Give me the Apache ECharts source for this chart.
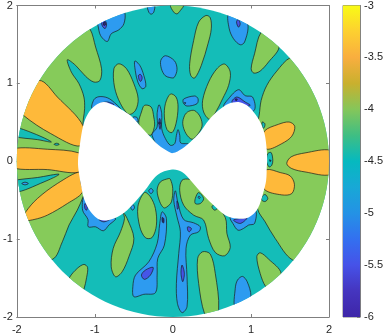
<!DOCTYPE html>
<html>
<head>
<meta charset="utf-8">
<script src="https://cdn.jsdelivr.net/npm/echarts@6/dist/echarts.min.js"></script>
<style>
  html, body { margin: 0; padding: 0; background: #fff; }
  #main { width: 386px; height: 335px; }
</style>
</head>
<body>
<div id="main"></div>
<script>
const discRadius = 2
const xRange = [-2, 2]
const yRange = [-2, 2]
const colorRange = [-6, -3]

// colourbar stops, bottom to top
const barValues = [-6, -5.75, -5.5, -5.25, -5, -4.75, -4.5, -4.25, -4, -3.75, -3.5, -3.25, -3]
const barColors = ['#3e26a8', '#4535bf', '#4652e8', '#3370f0', '#2492e5', '#18a8d6', '#06b9bf', '#3fbe83', '#85c65a', '#c9b02e', '#f9ae3f', '#fdd030', '#f9fb15']

// filled contour bands, outlines as [x, y]
const greenRegions = [
  // left side, runs behind the hole and past the rim
  [[-1.063,1.7],[-0.99,1.466],[-0.914,1.188],[-0.935,1.038],[-1.012,1.017],[-1.118,1.09],[-1.246,1.231],[-1.352,1.303],[-1.301,1.145],[-1.203,0.996],[-1.14,0.825],[-1.131,0.675],[-1.148,0.44],[-1.0,0],[-1.148,-0.449],[-1.225,-0.628],[-1.331,-0.82],[-1.416,-1.034],[-1.544,-1.26],[-2.2,-1.4],[-2.3,0],[-2.2,1.5],[-1.3,2.0]],
  // right side
  [[1.502,1.329],[1.331,1.158],[1.203,0.974],[1.131,0.782],[1.105,0.59],[1.0,0],[1.088,-0.62],[1.182,-0.778],[1.31,-0.991],[1.536,-1.269],[2.2,-1.5],[2.3,0],[2.2,1.6]],
  [[-1.323,-1.491],[-1.225,-1.376],[-1.14,-1.325],[-1.093,-1.363],[-1.105,-1.491],[-1.14,-1.645],[-1.2,-1.8],[-1.35,-1.6]],
  [[-0.032,2.01],[0.011,1.915],[0.053,1.893],[0.096,1.936],[0.138,2.01],[0.05,2.1]],
  [[-0.756,1.188],[-0.692,1.252],[-0.594,1.188],[-0.5,0.996],[-0.445,0.803],[-0.479,0.654],[-0.564,0.603],[-0.671,0.739],[-0.748,0.953]],
  [[-0.364,0.718],[-0.279,0.697],[-0.245,0.568],[-0.236,0.449],[-0.288,0.333],[-0.415,0.419],[-0.437,0.504],[-0.403,0.632]],
  [[-0.032,0.863],[0.04,0.825],[0.066,0.697],[0.04,0.483],[-0.011,0.368],[-0.075,0.406],[-0.109,0.568],[-0.096,0.739]],
  [[0.424,1.872],[0.479,1.842],[0.492,1.701],[0.45,1.509],[0.364,1.231],[0.279,1.068],[0.228,1.103],[0.215,1.252],[0.266,1.551],[0.33,1.786]],
  [[0.662,1.248],[0.735,1.145],[0.714,0.974],[0.637,0.803],[0.543,0.62],[0.471,0.538],[0.394,0.632],[0.381,0.782],[0.458,1.017],[0.564,1.188]],
  [[0.202,0.641],[0.279,0.65],[0.351,0.568],[0.373,0.449],[0.309,0.333],[0.245,0.282],[0.168,0.355],[0.126,0.483],[0.151,0.59]],
  [[1.131,1.658],[1.046,1.38],[1.003,1.188],[1.037,1.132],[1.118,1.158],[1.225,1.274],[1.361,1.466],[1.3,1.75]],
  [[-0.637,-0.658],[-0.586,-0.735],[-0.5,-0.991],[-0.564,-1.226],[-0.65,-1.419],[-0.735,-1.483],[-0.79,-1.355],[-0.765,-1.12],[-0.671,-0.906],[-0.62,-0.735]],
  [[-0.364,-0.402],[-0.288,-0.457],[-0.224,-0.607],[-0.211,-0.821],[-0.266,-0.979],[-0.351,-0.983],[-0.424,-0.842],[-0.449,-0.585]],
  [[-0.202,-0.372],[-0.16,-0.265],[-0.053,-0.222],[-0.032,-0.231],[-0.002,-0.35],[-0.019,-0.521],[-0.075,-0.585],[-0.117,-0.598],[-0.168,-0.521]],
  [[0.117,-0.244],[0.087,-0.372],[0.138,-0.564],[0.266,-0.692],[0.394,-0.756],[0.458,-0.991],[0.543,-1.171],[0.662,-1.214],[0.735,-1.107],[0.692,-0.927],[0.671,-0.722],[0.5,-0.479],[0.287,-0.265],[0.211,-0.231]],
  [[0.317,-1.248],[0.381,-1.162],[0.479,-1.192],[0.543,-1.44],[0.586,-1.902],[0.5,-2.05],[0.407,-1.962],[0.33,-1.568]],
  [[1.075,-1.226],[1.118,-1.175],[1.225,-1.256],[1.387,-1.44],[1.3,-1.7],[1.19,-1.611],[1.118,-1.44]]
]

const orangeRegions = [
  [[-1.715,1.038],[-1.48,0.825],[-1.148,0.449],[-1.19,0.197],[-1.565,0.355],[-1.915,0.59],[-2.1,0.8]],
  [[-2.05,0.16],[-1.608,0.154],[-1.203,0.107],[-1.15,0],[-1.203,-0.141],[-1.608,-0.107],[-2.05,-0.085],[-2.12,0.04]],
  [[-1.885,-0.65],[-1.736,-0.479],[-1.48,-0.286],[-1.19,-0.137],[-1.18,-0.265],[-1.161,-0.402],[-1.352,-0.543],[-1.608,-0.692],[-1.778,-0.748],[-1.93,-0.76]],
  [[1.174,0.389],[1.352,0.474],[1.489,0.504],[1.561,0.449],[1.523,0.321],[1.395,0.226],[1.208,0.154],[1.15,0.25]],
  [[1.459,-0.03],[1.514,0.056],[1.693,0.107],[2.02,0.141],[2.12,0],[2.02,-0.171],[1.693,-0.137],[1.523,-0.094]],
  [[1.203,-0.107],[1.374,-0.145],[1.502,-0.188],[1.557,-0.295],[1.523,-0.415],[1.395,-0.432],[1.174,-0.363],[1.15,-0.2]]
]

const tealRegions = [
  [[-2.05,0.44],[-1.778,0.355],[-1.557,0.248],[-1.736,0.278],[-2.05,0.32],[-2.12,0.38]],
  [[-1.523,0.218],[-1.489,0.231],[-1.455,0.218],[-1.489,0.205]],
  [[-2.05,-0.25],[-1.736,-0.209],[-1.459,-0.167],[-1.651,-0.265],[-2.03,-0.4],[-2.12,-0.3]],
  [[1.144,0.504],[1.178,0.483],[1.17,0.432],[1.148,0.427]],
  [[1.216,0.098],[1.259,0.111],[1.28,0.013],[1.267,-0.051],[1.233,-0.073],[1.2,0]],
  [[1.14,-0.457],[1.182,-0.427],[1.216,-0.479],[1.182,-0.517],[1.14,-0.5]],
  [[0.287,-0.479],[0.33,-0.402],[0.394,-0.479],[0.351,-0.543],[0.287,-0.543]],
  [[0.5,-0.585],[0.534,-0.556],[0.573,-0.598],[0.534,-0.628]]
]

const blueRegions = [
  [[-0.96,1.744],[-0.927,1.615],[-0.841,1.538],[-0.79,1.637],[-0.692,1.688],[-0.628,1.765],[-0.616,1.91],[-0.7,2.05],[-1.0,1.9]],
  [[-0.33,2.02],[-0.309,1.915],[-0.279,1.889],[-0.245,1.915],[-0.232,2.02],[-0.28,2.1]],
  [[-0.488,1.286],[-0.424,1.231],[-0.373,1.103],[-0.347,0.962],[-0.394,0.932],[-0.449,1.017],[-0.479,1.145]],
  [[-0.096,1.355],[-0.155,1.295],[-0.147,1.188],[-0.1,1.1],[-0.04,1.075],[0.015,1.075],[0.053,1.18],[0.02,1.29]],
  [[-0.177,0.726],[-0.143,0.611],[-0.143,0.419],[-0.096,0.291],[-0.032,0.205],[0.023,0.226],[0.045,0.333],[0.066,0.406],[0.088,0.333],[0.1,0.235],[0.202,0.218],[0.1,0.08],[-0.1,0.08],[-0.266,0.333],[-0.202,0.44],[-0.202,0.611]],
  [[-1.033,0.675],[-1.012,0.791],[-0.948,0.829],[-0.841,0.816],[-0.748,0.752],[-0.662,0.654],[-0.841,0.697]],
  [[-0.509,0.568],[-0.458,0.56],[-0.449,0.504],[-0.5,0.526]],
  [[0.713,1.9],[0.722,1.701],[0.777,1.573],[0.863,1.496],[0.918,1.53],[0.961,1.756],[0.85,1.95]],
  [[0.138,0.799],[0.279,0.838],[0.322,0.803],[0.309,0.739],[0.181,0.709],[0.134,0.748]],
  [[0.654,0.697],[0.713,0.803],[0.841,0.919],[0.926,0.842],[1.02,0.825],[1.046,0.662],[0.9,0.6]],
  [[-1.936,-0.286],[-1.894,-0.269],[-1.851,-0.286],[-1.894,-0.303]],
  [[-1.14,-0.457],[-1.157,-0.628],[-1.088,-0.748],[-1.084,-0.842],[-0.99,-0.842],[-0.892,-0.893],[-0.82,-0.82],[-0.735,-0.735],[-0.926,-0.692],[-1.054,-0.543]],
  [[-0.138,-0.65],[-0.083,-0.735],[-0.109,-1.077],[-0.194,-1.248],[-0.202,-1.462],[-0.224,-1.688],[-0.373,-1.709],[-0.5,-1.739],[-0.513,-1.611],[-0.479,-1.462],[-0.309,-1.291],[-0.202,-1.056],[-0.168,-0.799]],
  [[-0.309,-0.38],[-0.279,-0.35],[-0.253,-0.38],[-0.279,-0.415]],
  [[-0.539,-0.594],[-0.513,-0.556],[-0.492,-0.594],[-0.517,-0.628]],
  [[0.032,-0.38],[0.066,-0.543],[0.138,-0.748],[0.266,-0.791],[0.351,-0.842],[0.33,-0.906],[0.224,-0.949],[0.168,-1.12],[0.181,-1.483],[0.181,-1.868],[0.117,-1.944],[0.058,-1.825],[0.045,-1.568],[0.075,-1.184],[0.096,-0.906],[0.053,-0.714],[0.011,-0.5]],
  [[0.33,-0.45],[0.35,-0.46],[0.34,-0.48],[0.325,-0.47]],
  [[0.735,-0.722],[0.769,-0.799],[0.833,-0.885],[0.905,-0.863],[0.969,-0.82],[1.046,-0.799],[1.054,-0.628],[0.841,-0.66]],
  [[0.799,-1.9],[0.799,-1.632],[0.828,-1.526],[0.892,-1.479],[0.952,-1.547],[1.0,-1.731],[0.95,-1.95]]
]

const indigoRegions = [
  [[-0.914,1.799],[-0.88,1.816],[-0.85,1.765],[-0.867,1.705],[-0.901,1.731]],
  [[-0.44,1.103],[-0.415,1.115],[-0.394,1.073],[-0.411,1.026],[-0.432,1.047]],
  [[-0.17,0.55],[-0.155,0.49],[-0.165,0.41],[-0.18,0.49]],
  [[-0.927,0.739],[-0.841,0.761],[-0.756,0.726],[-0.85,0.7]],
  [[0.815,1.786],[0.837,1.821],[0.862,1.765],[0.841,1.722]],
  [[0.756,0.761],[0.82,0.825],[0.926,0.761],[0.99,0.718],[0.85,0.7]],
  [[-0.403,-1.462],[-0.351,-1.397],[-0.253,-1.363],[-0.288,-1.462],[-0.364,-1.517]],
  [[-1.127,-0.543],[-1.097,-0.585],[-1.105,-0.628],[-1.127,-0.607]],
  [[-0.948,-0.748],[-0.905,-0.739],[-0.807,-0.744],[-0.884,-0.778]],
  [[0.117,-1.333],[0.147,-1.44],[0.126,-1.547],[0.104,-1.44]],
  [[0.19,-0.842],[0.237,-0.863],[0.211,-0.906],[0.19,-0.885]],
  [[0.053,-0.51],[0.075,-0.585],[0.058,-0.615]],
  [[0.777,-0.756],[0.863,-0.799],[0.948,-0.731],[0.863,-0.735]]
]

const navyRegions = [
  [[-0.89,1.78],[-0.87,1.79],[-0.865,1.75],[-0.885,1.745]],
  [[-0.172,0.505],[-0.16,0.49],[-0.172,0.475],[-0.184,0.49]],
  [[0.15,0.755],[0.165,0.75],[0.155,0.74]],
  [[0.8,0.8],[0.825,0.795],[0.81,0.775]],
  [[-0.138,-0.722],[-0.117,-0.735],[-0.117,-0.79],[-0.134,-0.782]],
  [[1.24,0.02],[1.255,0.01],[1.245,-0.005]]
]

// white bowtie in the middle of the disc
const holeOutline = [[-1.216,0],[-1.19,0.226],[-1.148,0.462],[-1.088,0.611],[-0.99,0.718],[-0.884,0.761],[-0.756,0.718],[-0.628,0.645],[-0.522,0.568],[-0.415,0.449],[-0.309,0.333],[-0.181,0.205],[-0.06,0.125],[0,0.105],[0.117,0.162],[0.224,0.248],[0.351,0.376],[0.458,0.526],[0.586,0.654],[0.713,0.739],[0.841,0.761],[0.948,0.718],[1.033,0.632],[1.118,0.504],[1.174,0.355],[1.203,0.141],[1.208,0],[1.203,-0.073],[1.195,-0.244],[1.161,-0.393],[1.088,-0.607],[0.969,-0.722],[0.82,-0.735],[0.671,-0.692],[0.543,-0.585],[0.394,-0.436],[0.245,-0.265],[0.117,-0.137],[-0.011,-0.107],[-0.202,-0.179],[-0.373,-0.393],[-0.586,-0.628],[-0.756,-0.735],[-0.926,-0.756],[-1.054,-0.65],[-1.14,-0.479],[-1.173,-0.329],[-1.203,-0.158]]

const labelStyle = { color: '#262626', fontSize: 11, fontFamily: 'Liberation Sans' }
const boxLine = { show: true, onZero: false, lineStyle: { color: '#7f7f7f', width: 1 } }
const boxTick = { show: true, inside: true, length: 3, lineStyle: { color: '#7f7f7f', width: 1 } }

function regionSeries(regions, color) {
  return {
    type: 'custom',
    xAxisIndex: 0,
    yAxisIndex: 0,
    silent: true,
    data: regions.map(r => r[0]),
    renderItem(params, api) {
      const c = api.coord([0, 0])
      const s = api.size([discRadius, discRadius])
      return {
        type: 'polygon',
        shape: { points: regions[params.dataIndex].map(p => api.coord(p)), smooth: 0.33 },
        style: { fill: color, stroke: '#1c1c1c', lineWidth: 0.7 },
        clipPath: { type: 'ellipse', shape: { cx: c[0], cy: c[1], rx: s[0], ry: s[1] } }
      }
    }
  }
}

const myChart = echarts.init(document.getElementById('main'))
myChart.setOption({
  animation: false,
  grid: [
    { left: 16, top: 5, width: 313, height: 312 },
    { left: 343, top: 5, width: 19, height: 312, show: true, borderColor: '#7f7f7f', borderWidth: 1 }
  ],
  xAxis: [
    { type: 'value', gridIndex: 0, position: 'bottom', min: xRange[0], max: xRange[1], interval: 1, splitLine: { show: false }, axisLine: boxLine, axisTick: boxTick, axisLabel: { ...labelStyle, margin: 7 } },
    { type: 'value', gridIndex: 0, position: 'top', min: xRange[0], max: xRange[1], interval: 1, splitLine: { show: false }, axisLine: boxLine, axisTick: boxTick, axisLabel: { show: false } },
    { type: 'value', gridIndex: 1, min: 0, max: 1, show: false }
  ],
  yAxis: [
    { type: 'value', gridIndex: 0, position: 'left', min: yRange[0], max: yRange[1], interval: 1, splitLine: { show: false }, axisLine: boxLine, axisTick: boxTick, axisLabel: { ...labelStyle, margin: 4 } },
    { type: 'value', gridIndex: 0, position: 'right', min: yRange[0], max: yRange[1], interval: 1, splitLine: { show: false }, axisLine: boxLine, axisTick: boxTick, axisLabel: { show: false } },
    { type: 'value', gridIndex: 1, position: 'right', min: colorRange[0], max: colorRange[1], interval: 0.5, splitLine: { show: false }, axisLine: boxLine, axisTick: boxTick, axisLabel: { ...labelStyle, margin: 4 } }
  ],
  series: [
    {
      // the disc itself, filled with the most common band
      type: 'custom',
      xAxisIndex: 0,
      yAxisIndex: 0,
      silent: true,
      data: [[0, 0]],
      renderItem(params, api) {
        const c = api.coord([0, 0])
        const s = api.size([discRadius, discRadius])
        return { type: 'ellipse', shape: { cx: c[0], cy: c[1], rx: s[0], ry: s[1] }, style: { fill: '#14bdb8' } }
      }
    },
    regionSeries(greenRegions, '#86cb5a'),
    regionSeries(orangeRegions, '#feb93a'),
    regionSeries(tealRegions, '#14bdb8'),
    regionSeries(blueRegions, '#2d9bf0'),
    regionSeries(indigoRegions, '#4655e8'),
    regionSeries(navyRegions, '#2a2a80'),
    {
      type: 'custom',
      xAxisIndex: 0,
      yAxisIndex: 0,
      silent: true,
      data: [holeOutline[0]],
      renderItem(params, api) {
        return { type: 'polygon', shape: { points: holeOutline.map(p => api.coord(p)), smooth: 0.33 }, style: { fill: '#fff' } }
      }
    },
    {
      // colourbar
      type: 'custom',
      xAxisIndex: 2,
      yAxisIndex: 2,
      silent: true,
      data: [[0, colorRange[0]]],
      renderItem(params, api) {
        const a = api.coord([0, colorRange[1]])
        const b = api.coord([1, colorRange[0]])
        const stops = barValues.map((v, i) => ({ offset: (v - colorRange[0]) / (colorRange[1] - colorRange[0]), color: barColors[i] }))
        return {
          type: 'rect',
          shape: { x: a[0], y: a[1], width: b[0] - a[0], height: b[1] - a[1] },
          style: { fill: new echarts.graphic.LinearGradient(0, 1, 0, 0, stops) }
        }
      }
    }
  ]
})
</script>
</body>
</html>
